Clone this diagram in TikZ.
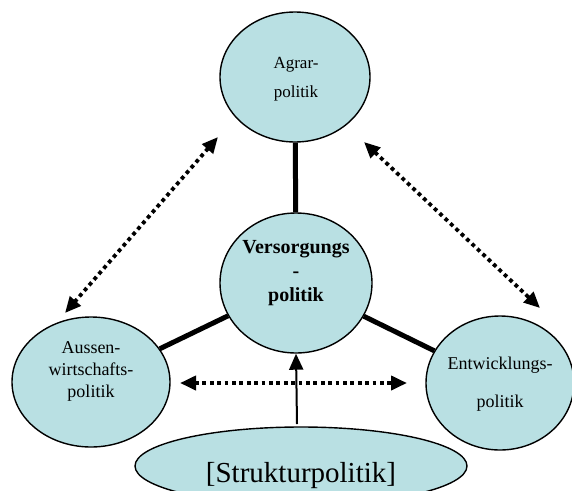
\documentclass[tikz,border=0pt]{standalone}
\usepackage{fontspec}
\setmainfont{Liberation Serif}
\usetikzlibrary{shapes.geometric,arrows.meta}
\definecolor{bubble}{RGB}{185,224,227}
\tikzset{
  bub/.style={ellipse,draw=black,line width=1.4pt,fill=bubble,inner sep=0pt},
  lbl/.style={anchor=base,inner sep=0pt,font=\fontsize{17}{17}\selectfont},
  thickline/.style={line width=5pt},
  dotarrow/.style={line width=3.8pt,dash pattern=on 3.8pt off 3.6pt,
    {Triangle[length=16pt,width=14pt]}-{Triangle[length=16pt,width=14pt]}},
  solidarrow/.style={line width=2pt,-{Triangle[length=16pt,width=14pt]}}
}
\begin{document}
\begin{tikzpicture}[x=1pt,y=-1pt]
\useasboundingbox (0,0) rectangle (572,490);
\clip (0,0) rectangle (572,490);
% ellipses
\node[bub,minimum width=150pt,minimum height=130pt] (agrar) at (295,77) {};
\node[bub,minimum width=152pt,minimum height=140pt] (vers) at (296,283) {};
\node[bub,minimum width=158pt,minimum height=130pt] (aussen) at (91,382) {};
\node[bub,minimum width=148pt,minimum height=134pt] (entw) at (500,383) {};
\node[bub,minimum width=332pt,minimum height=78pt] (struk) at (301,466) {};
% thick connectors
\draw[thickline] (agrar) -- (vers);
\draw[thickline] (vers) -- (aussen);
\draw[thickline] (vers) -- (entw);
% dotted arrows
\coordinate (a1) at (218,137);
\coordinate (a2) at (65,313);
\coordinate (b1) at (364,142);
\coordinate (b2) at (540,308);
\coordinate (h1) at (180,383);
\coordinate (h2) at (407,383);
\draw[dotarrow] (a1) -- (a2);
\draw[dotarrow] (b1) -- (b2);
\draw[dotarrow] (h1) -- (h2);
\coordinate (v1) at (297,424);
\draw[solidarrow] (v1) -- (vers.south);
% texts
\node[lbl] (t1) at (296,68) {Agrar-};
\node[lbl] (t2) at (296,97) {politik};
\node[lbl,font=\fontsize{20}{20}\selectfont\bfseries] (t3) at (296,253) {Versorgungs};
\node[lbl,font=\fontsize{20}{20}\selectfont\bfseries] (t4) at (296,277) {-};
\node[lbl,font=\fontsize{20}{20}\selectfont\bfseries] (t5) at (296,301) {politik};
\node[lbl,font=\fontsize{18}{18}\selectfont] (t6) at (91,353) {Aussen-};
\node[lbl,font=\fontsize{18}{18}\selectfont] (t7) at (91,375) {wirtschafts-};
\node[lbl,font=\fontsize{18}{18}\selectfont] (t8) at (91,397) {politik};
\node[lbl,font=\fontsize{18}{18}\selectfont] (t9) at (500,369) {Entwicklungs-};
\node[lbl,font=\fontsize{18}{18}\selectfont] (t10) at (500,407) {politik};
\node[lbl,font=\fontsize{29}{29}\selectfont] (t11) at (301,482) {[Strukturpolitik]};
\end{tikzpicture}
\end{document}
